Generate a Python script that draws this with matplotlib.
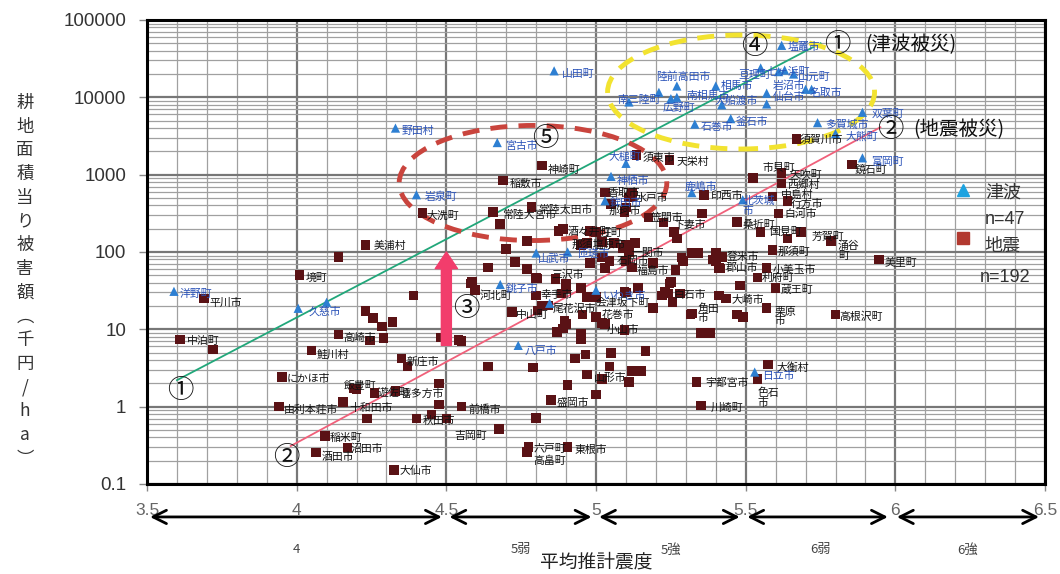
import numpy as np
import matplotlib.pyplot as plt
from matplotlib.patches import Ellipse
from matplotlib.ticker import LogLocator, NullFormatter

plt.rcParams['font.family'] = ['Liberation Sans', 'Noto Sans CJK JP']
JP = ['Noto Sans CJK JP', 'DejaVu Sans']

# --- tsunami damaged municipalities (blue triangles)
ts_name = ['洋野町', '久慈市', '', '野田村', '岩泉町', '宮古市', '山田町', '南三陸町', '', '陸前高田市',
           '南相馬市', '広野町', '相馬市', '大船渡市', '釜石市', '石巻市', '亘理町', '七ヶ浜町', '山元町', '',
           '岩沼市', '仙台市', '名取市', '', '塩竈市', '双葉町', '多賀城市', '大熊町', '富岡町', '大槌町',
           '神栖市', '鉾田市', '山武市', '匝瑳市', '銚子市', '八戸市', 'いわき市', '', '日立市', '鹿嶋市',
           '北茨城\n市']
ts_x = [3.59, 4.005, 4.10, 4.33, 4.40, 4.67, 4.86, 5.11, 5.21, 5.27,
        5.27, 5.25, 5.40, 5.42, 5.45, 5.33, 5.55, 5.61, 5.66, 5.63,
        5.57, 5.57, 5.70, 5.72, 5.62, 5.89, 5.74, 5.80, 5.89, 5.10,
        5.05, 5.03, 4.80, 4.905, 4.68, 4.74, 5.0, 4.845, 5.53, 5.32,
        5.49]
ts_y = [31, 18.7, 22.4, 4000, 550, 2600, 22000, 8700, 11600, 14000,
        10000, 9600, 14000, 8000, 5300, 4500, 24000, 21500, 20000, 22500,
        11300, 8200, 12700, 12700, 47000, 6400, 4700, 3400, 1650, 1400,
        950, 460, 97, 100, 38, 6.2, 32, 21.7, 2.8, 585,
        473]

# --- earthquake damaged municipalities with labels (dark squares)
eq_name = ['美浦村', '境町', '平川市', '中泊町', '高崎市', '鮭川村', '新庄市', 'にかほ市', '飯豊町', '遊佐町',
           '喜多方市', '十和田市', '由利本荘市', '秋田市', '稲米町', '沼田市', '酒田市', '大仙市', '大洗町', '神崎町',
           '稲敷市', '常陸太田市', '常陸大宮市', '酒々井町', '庄町', '那須塩原市', '石岡市', '一関市', '福島市', '河北町',
           '中山町', '三沢市', '幸手市', '尾花沢市', '会津坂下町', '花巻市', '小山市', '山形市', '盛岡市', '前橋市',
           '吉岡町', '六戸町', '高畠町', '東根市', '宇都宮市', '川崎町', '大崎市', '角田\n市', '白石市', '登米市',
           '郡山市', '小美玉市', '利府町', '蔵王町', '栗原\n市', '高根沢町', '大衡村', '美里町', '涌谷\n町', '芳賀町',
           '那須町', '国見町', '桑折町', '白河市', '行方市', '中島村', '西郷村', '矢吹町', '市貝町', '鏡石町',
           '須賀川市', '天栄村', '須東市', '水戸市', '香取市', '那珂市', '笠間市', '下妻市', '印西市']
eq_x = [4.23, 4.01, 3.69, 3.61, 4.14, 4.05, 4.35, 3.95, 4.19, 4.26,
        4.33, 4.155, 3.94, 4.40, 4.095, 4.17, 4.065, 4.325, 4.42, 4.82,
        4.69, 4.785, 4.655, 4.89, 5.0, 4.95, 5.045, 5.11, 5.12, 4.595,
        4.72, 4.865, 4.80, 4.84, 4.97, 5.02, 5.095, 5.02, 4.85, 4.55,
        4.675, 4.775, 4.77, 4.905, 5.335, 5.35, 5.47, 5.32, 5.24, 5.40,
        5.41, 5.57, 5.54, 5.60, 5.57, 5.80, 5.575, 5.945, 5.785, 5.685,
        5.59, 5.55, 5.47, 5.61, 5.64, 5.59, 5.62, 5.62, 5.525, 5.855,
        5.67, 5.245, 5.135, 5.11, 5.03, 5.05, 5.175, 5.225, 5.36]
eq_y = [123, 50, 25, 7.4, 8.6, 5.35, 4.2, 2.4, 1.72, 1.5,
        1.59, 1.14, 1.0, 0.70, 0.42, 0.295, 0.254, 0.153, 322, 1310,
        840, 385, 330, 200, 181, 123, 77, 100, 63, 32,
        16.6, 45, 27.5, 20.4, 26, 12, 9.8, 2.26, 1.23, 1.0,
        0.51, 0.30, 0.26, 0.30, 2.1, 1.03, 15.5, 16, 29, 97,
        62, 62, 47, 34, 18.7, 15.6, 3.5, 80, 139, 180,
        106, 180, 246, 315, 460, 520, 765, 1050, 910, 1350,
        2900, 1560, 1780, 504, 585, 420, 278, 240, 550]

# --- earthquake damaged municipalities without readable labels
eq_x_more = [4.14, 4.39, 3.72, 4.23, 4.255, 4.285, 4.32, 4.245, 4.29, 4.48,
             4.54, 4.37, 4.475, 4.475, 4.235, 4.45, 4.50, 4.20,
             4.68, 4.70, 4.77, 4.73, 4.77, 4.64, 4.98, 4.97, 5.02, 5.06,
             5.10, 4.98, 5.03, 4.80, 4.90, 4.95, 4.585, 5.095, 5.12, 5.10,
             5.095, 4.875, 5.02,
             4.58, 4.805, 4.82, 4.805, 4.885, 4.90, 5.00, 4.955, 5.0, 4.895,
             4.89, 4.87, 4.95, 4.95, 4.90, 5.03,
             4.55, 4.64, 4.79, 4.93, 4.965, 5.05, 5.165, 5.045, 4.97, 5.12,
             5.15, 5.11, 4.905, 5.00, 4.80,
             5.10, 5.14, 5.245, 5.22, 5.255, 5.28, 5.19, 5.315, 5.35, 5.38,
             5.41, 5.435, 5.49, 5.48, 5.23,
             5.34, 5.42, 5.39, 5.32, 5.285, 5.265, 5.25, 5.29, 5.415, 5.40,
             5.13, 5.09, 5.10, 5.19, 5.26, 5.27, 5.355, 5.12, 5.64, 5.54]
eq_y_more = [86, 27.5, 5.5, 17.1, 13.9, 10.9, 12.5, 7.2, 7.7, 7.8,
             7.3, 3.3, 2.0, 1.07, 0.70, 0.79, 0.70, 1.7,
             230, 109, 139, 74, 60, 63, 187, 130, 135, 130,
             123, 72, 62, 46, 39, 34, 41, 31, 520, 375,
             330, 187, 85,
             39, 45.6, 20.4, 17.5, 29, 34, 26, 15.5, 14.5, 13,
             10.3, 9.2, 8.7, 7.4, 11.7, 11.7,
             7.0, 3.3, 3.2, 4.2, 4.7, 4.9, 5.2, 3.3, 2.6, 2.9,
             2.9, 2.1, 1.9, 1.44, 0.72,
             29.8, 34, 39, 27.5, 22.5, 29, 18.7, 15.6, 8.9, 8.9,
             27.5, 25, 14.5, 37, 31,
             97, 86, 80, 97, 85, 58, 41, 77, 61, 75,
             130, 112, 77, 72, 180, 150, 315, 590, 150, 2.26]

# regression-like guide lines
line1_x = [3.6, 5.75]
line1_y = [2.2, 50000]
line2_x = [3.98, 5.95]
line2_y = [0.31, 4100]

xticks = [3.5, 4, 4.5, 5, 5.5, 6, 6.5]
xtick_labels = ['3.5', '4', '4.5', '5', '5.5', '6', '6.5']
yticks = [0.1, 1, 10, 100, 1000, 10000, 100000]
ytick_labels = ['0.1', '1', '10', '100', '1000', '10000', '100000']

# seismic intensity classes under the x axis
class_start = [3.51, 4.51, 5.01, 5.505, 6.005]
class_end = [4.485, 4.985, 5.48, 5.975, 6.48]
class_label = ['4', '5弱', '5強', '6弱', '6強']
class_label_x = [4.0, 4.75, 5.25, 5.75, 6.24]

# label offsets in pixels (default is to the right of the marker)
ts_offset = {'洋野町': (6, -3), '久慈市': (10, -3), '野田村': (6, -3), '岩泉町': (8, -2), '宮古市': (8, -3),
             '山田町': (8, -3), '南三陸町': (-12, 2), '陸前高田市': (-21, 9), '南相馬市': (10, 1),
             '広野町': (-8, -9), '相馬市': (5, 0), '大船渡市': (-7, 4), '釜石市': (5, -3), '石巻市': (6, -3),
             '亘理町': (-22, -7), '七ヶ浜町': (-12, 0), '山元町': (4, -3), '岩沼市': (6, 7), '仙台市': (6, 7),
             '名取市': (4, -4), '塩竈市': (6, -2), '双葉町': (9, -1), '多賀城市': (8, -2), '大熊町': (10, -3),
             '富岡町': (9, -4), '大槌町': (-17, 6), '神栖市': (6, -5), '鉾田市': (5, -2), '山武市': (2, -6),
             '匝瑳市': (10, -1), '銚子市': (6, -4), '八戸市': (6, -5), 'いわき市': (7, -6), '日立市': (7, -4),
             '鹿嶋市': (-7, 6), '北茨城\n市': (0, -6)}
eq_offset = {'美浦村': (8, -1), '境町': (6, -3), '平川市': (6, -4), '中泊町': (7, -2), '高崎市': (5, -4),
             '鮭川村': (5, -4), '新庄市': (5, -3), 'にかほ市': (5, -2), '飯豊町': (-10, 2), '遊佐町': (3, 0),
             '喜多方市': (5, -3), '十和田市': (6, -6), '由利本荘市': (5, -3), '秋田市': (6, -2), '稲米町': (5, -2),
             '沼田市': (3, -1), '酒田市': (6, -4), '大仙市': (6, -1), '大洗町': (4, -3), '神崎町': (6, -4),
             '稲敷市': (6, -3), '常陸太田市': (6, -3), '常陸大宮市': (9, -3), '酒々井町': (5, -3), '庄町': (5, 0),
             '那須塩原市': (-10, 0), '石岡市': (7, 0), '一関市': (3, -1), '福島市': (5, -3), '河北町': (5, -5),
             '中山町': (4, -3), '三沢市': (-4, 4), '幸手市': (4, 0), '尾花沢市': (5, -3), '会津坂下町': (9, -6),
             '花巻市': (0, 8), '小山市': (-18, 0), '山形市': (-8, 2), '盛岡市': (5, -3), '前橋市': (7, -3),
             '吉岡町': (-44, -7), '六戸町': (5, -2), '高畠町': (6, -9), '東根市': (7, -3), '宇都宮市': (9, -1),
             '川崎町': (10, -2), '大崎市': (-5, 15), '角田\n市': (6, 0), '白石市': (6, -1), '登米市': (11, -4),
             '郡山市': (7, 0), '小美玉市': (6, -2), '利府町': (4, -1), '蔵王町': (5, -2), '栗原\n市': (8, -8),
             '高根沢町': (4, -2), '大衡村': (8, -3), '美里町': (6, -3), '涌谷\n町': (7, -10), '芳賀町': (11, -5),
             '那須町': (5, -2), '国見町': (8, 0), '桑折町': (6, -3), '白河市': (6, 0), '行方市': (3, -3),
             '中島村': (8, 2), '西郷村': (6, -1), '矢吹町': (8, -2), '市貝町': (9, 10), '鏡石町': (3, -5),
             '須賀川市': (3, -1), '天栄村': (7, -2), '須東市': (6, -3), '水戸市': (7, 0), '香取市': (3, 0),
             '那珂市': (-2, -7), '笠間市': (2, 0), '下妻市': (10, -2), '印西市': (7, -1)}

fig = plt.figure(figsize=(10.6, 5.74), dpi=100)
ax = fig.add_axes([0.1387, 0.1568, 0.8472, 0.8084])
ax.set_yscale('log')
ax.set_xlim(3.5, 6.5)
ax.set_ylim(0.1, 100000)

# grid
ax.set_xticks(xticks)
ax.set_xticklabels(xtick_labels)
ax.set_xticks(np.arange(3.5, 6.51, 0.1), minor=True)
ax.set_yticks(yticks)
ax.set_yticklabels(ytick_labels)
ax.yaxis.set_minor_locator(LogLocator(base=10, subs=np.arange(2, 10), numticks=30))
ax.yaxis.set_minor_formatter(NullFormatter())
ax.grid(which='minor', color='#a0a0a0', lw=0.9)
ax.grid(which='major', color='#777777', lw=1.6)
ax.set_axisbelow(True)
ax.tick_params(which='minor', length=0)
ax.tick_params(axis='y', which='major', length=6, width=1, color='#888', labelsize=13.5,
               labelcolor='#333', pad=9)
ax.tick_params(axis='x', which='major', length=5, width=1, color='#888', labelsize=12.5,
               labelcolor='#666', pad=9)
for s in ax.spines.values():
    s.set_linewidth(2.2)
    s.set_color('black')

# guide lines
ax.plot(line1_x, line1_y, color='#21a77a', lw=1.3, zorder=3)
ax.plot(line2_x, line2_y, color='#f0607a', lw=1.3, zorder=3)

# circled areas
ax.add_patch(Ellipse((0.6615, 0.8448), 0.2973, 0.2457, transform=ax.transAxes, fill=False,
                     ec='#f2e330', lw=3.5, ls=(0, (3.5, 2.3)), zorder=3))
ax.add_patch(Ellipse((0.4298, 0.6487), 0.298, 0.248, transform=ax.transAxes, fill=False,
                     ec='#c9443d', lw=3.5, ls=(0, (3.5, 2.3)), zorder=3))

# points
ax.scatter(eq_x + eq_x_more, eq_y + eq_y_more, marker='s', s=48, c='#5a1215',
           edgecolors='none', zorder=4)
ax.scatter(ts_x, ts_y, marker='^', s=44, c='#2d7fd2', edgecolors='none', zorder=4)

for n, x, y in zip(eq_name, eq_x, eq_y):
    ax.annotate(n, (x, y), xytext=eq_offset.get(n, (6, -2)), textcoords='offset pixels',
                fontsize=7.8, family=JP, color='#111', ha='left', va='center',
                linespacing=0.9, zorder=5)
for n, x, y in zip(ts_name, ts_x, ts_y):
    if n:
        ax.annotate(n, (x, y), xytext=ts_offset.get(n, (6, -2)), textcoords='offset pixels',
                    fontsize=7.8, family=JP, color='#2a52b8', ha='left', va='center',
                    linespacing=0.9, zorder=5)
ax.text(5.54, 1.3, '色石\n市', fontsize=7.8, family=JP, color='#111', va='center',
        linespacing=0.9, zorder=5)

# pink arrow
ax.annotate('', xy=(4.5, 100), xytext=(4.5, 6.2),
            arrowprops=dict(arrowstyle='simple,head_length=0.75,head_width=1.0,tail_width=0.45',
                            color='#f23d6c', shrinkA=0, shrinkB=0, mutation_scale=16), zorder=6)

# circled numbers and captions
num_kw = dict(fontsize=19, family=JP, color='#111', ha='center', va='center', zorder=6)
ax.text(3.61, 1.6, '①', **num_kw)
ax.text(5.807, 47600, '①', **num_kw)
ax.text(3.965, 0.22, '②', **num_kw)
ax.text(5.984, 3780, '②', **num_kw)
ax.text(4.565, 18.8, '③', **num_kw)
ax.text(5.53, 44800, '④', **num_kw)
ax.text(4.83, 2900, '⑤', **num_kw)
ax.text(5.9, 47600, '(津波被災)', fontsize=14, family=JP, color='#111', va='center', zorder=6)
ax.text(6.06, 3780, '(地震被災)', fontsize=14, family=JP, color='#111', va='center', zorder=6)

# legend drawn by hand
ax.plot([0.909], [0.634], marker='^', ms=8, color='#1ea3e0', transform=ax.transAxes, zorder=6)
ax.plot([0.909], [0.530], marker='s', ms=8, color='#b2392f', transform=ax.transAxes, zorder=6)
leg_kw = dict(transform=ax.transAxes, ha='center', va='center', color='#333', zorder=6)
ax.text(0.953, 0.629, '津波', fontsize=13, family=JP, **leg_kw)
ax.text(0.955, 0.569, 'n=47', fontsize=13, **leg_kw)
ax.text(0.953, 0.513, '地震', fontsize=13, family=JP, **leg_kw)
ax.text(0.955, 0.444, 'n=192', fontsize=13, **leg_kw)

# intensity class arrows below the axis
xtrans = ax.get_xaxis_transform()
for a, b, lab, lx in zip(class_start, class_end, class_label, class_label_x):
    ax.annotate('', xy=(b, -0.071), xytext=(a, -0.071), xycoords=xtrans, textcoords=xtrans,
                arrowprops=dict(arrowstyle='<->', lw=2, color='black', mutation_scale=24,
                                shrinkA=0, shrinkB=0), annotation_clip=False)
    ax.text(lx, -0.142, lab, transform=xtrans, fontsize=9.5, family=JP, color='#444',
            ha='center', va='center')
ax.text(5.0, -0.168, '平均推計震度', transform=xtrans, fontsize=13.5, family=JP, color='#222',
        ha='center', va='center')

# vertical y label, one character per row
ylab = ['耕', '地', '面', '積', '当', 'り', '被', '害', '額', '︵', '千', '円', '/', 'h', 'a', '︶']
for i, ch in enumerate(ylab):
    fig.text(25 / 1060, 1 - (103 + i * 23.7) / 574, ch, fontsize=12.5, family=JP, color='#333',
             ha='center', va='center')

fig.savefig('out.png', dpi=100)
